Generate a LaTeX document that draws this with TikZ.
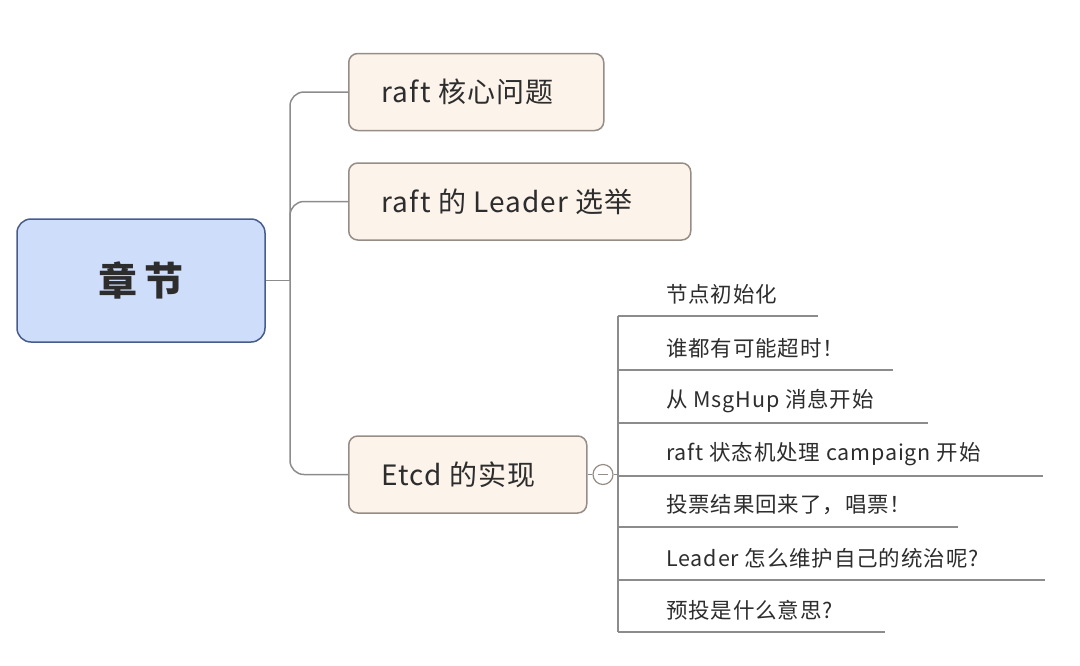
\documentclass[tikz,border=0pt]{standalone}
\usepackage{fontspec}
\setmainfont{Noto Sans CJK SC}
\usetikzlibrary{positioning}
\definecolor{rootfill}{RGB}{206,222,250}
\definecolor{rootline}{RGB}{72,92,140}
\definecolor{boxfill}{RGB}{252,243,235}
\definecolor{boxline}{RGB}{150,142,134}
\definecolor{linkgray}{RGB}{140,140,140}
\definecolor{txt}{RGB}{45,45,45}
\begin{document}
\begin{tikzpicture}[x=1pt,y=-1pt,
  root/.style={draw=rootline,fill=rootfill,line width=1.5pt,rounded corners=14pt,minimum width=248pt,minimum height=123pt,text=txt,font=\fontsize{39}{44}\selectfont\bfseries},
  topic/.style={draw=boxline,fill=boxfill,line width=1.5pt,rounded corners=9pt,minimum height=77pt,inner xsep=0pt,text=txt,font=\fontsize{28}{32}\selectfont\addfontfeature{LetterSpace=4}},
  leaf/.style={anchor=west,inner sep=0pt,text=txt,font=\fontsize{21.5}{26}\selectfont\addfontfeature{LetterSpace=4}},
  link/.style={draw=linkgray,line width=1.5pt}]
\useasboundingbox (0,0) rectangle (1080,665);

% main topic
\node[root] (chap) at (141,280.5) {章\,节};

% topics
\node[topic,anchor=west,minimum width=255pt] (core) at (348,92) {\makebox[189pt][l]{raft 核心问题}};
\node[topic,anchor=west,minimum width=342pt] (elect) at (348,201.5) {\makebox[276pt][l]{raft 的 Leader 选举}};
\node[topic,anchor=west,minimum width=238pt] (etcd) at (348,474.5) {\makebox[172pt][l]{Etcd 的实现}};

\coordinate (fork) at (290,280.5);
\draw[link] (chap.east) -- (fork);
\draw[link,rounded corners=14pt] (fork) |- (core.west);
\draw[link,rounded corners=14pt] (fork) |- (elect.west);
\draw[link,rounded corners=14pt] (fork) |- (etcd.west);

% collapse button
\node[circle,draw=boxline,fill=white,line width=1.2pt,minimum size=20pt,inner sep=0pt] (fold) at (603,474.5) {};
\draw[link] (etcd.east) -- (fold.west);
\draw[boxline,line width=1.2pt] ([xshift=-5pt]fold.center) -- ([xshift=5pt]fold.center);

% subtopics
\coordinate (spine) at (618,474.5);
\draw[link] (fold.east) -- (spine);
\draw[link] (618,316) -- (618,632);
\foreach \y/\xend/\name/\txt in {
  316/818/init/节点初始化,
  370/893/timeout/谁都有可能超时！,
  423/928/hup/从 MsgHup 消息开始,
  476/1043/camp/raft 状态机处理 campaign 开始,
  527/958/vote/投票结果回来了，唱票！,
  580/1045/keep/Leader 怎么维护自己的统治呢?,
  632/885/pre/预投是什么意思?}{
  \node[leaf] (\name) at (666,\y-22) {\txt};
  \draw[link] (618,\y) -- (\xend,\y);
}
\end{tikzpicture}
\end{document}
